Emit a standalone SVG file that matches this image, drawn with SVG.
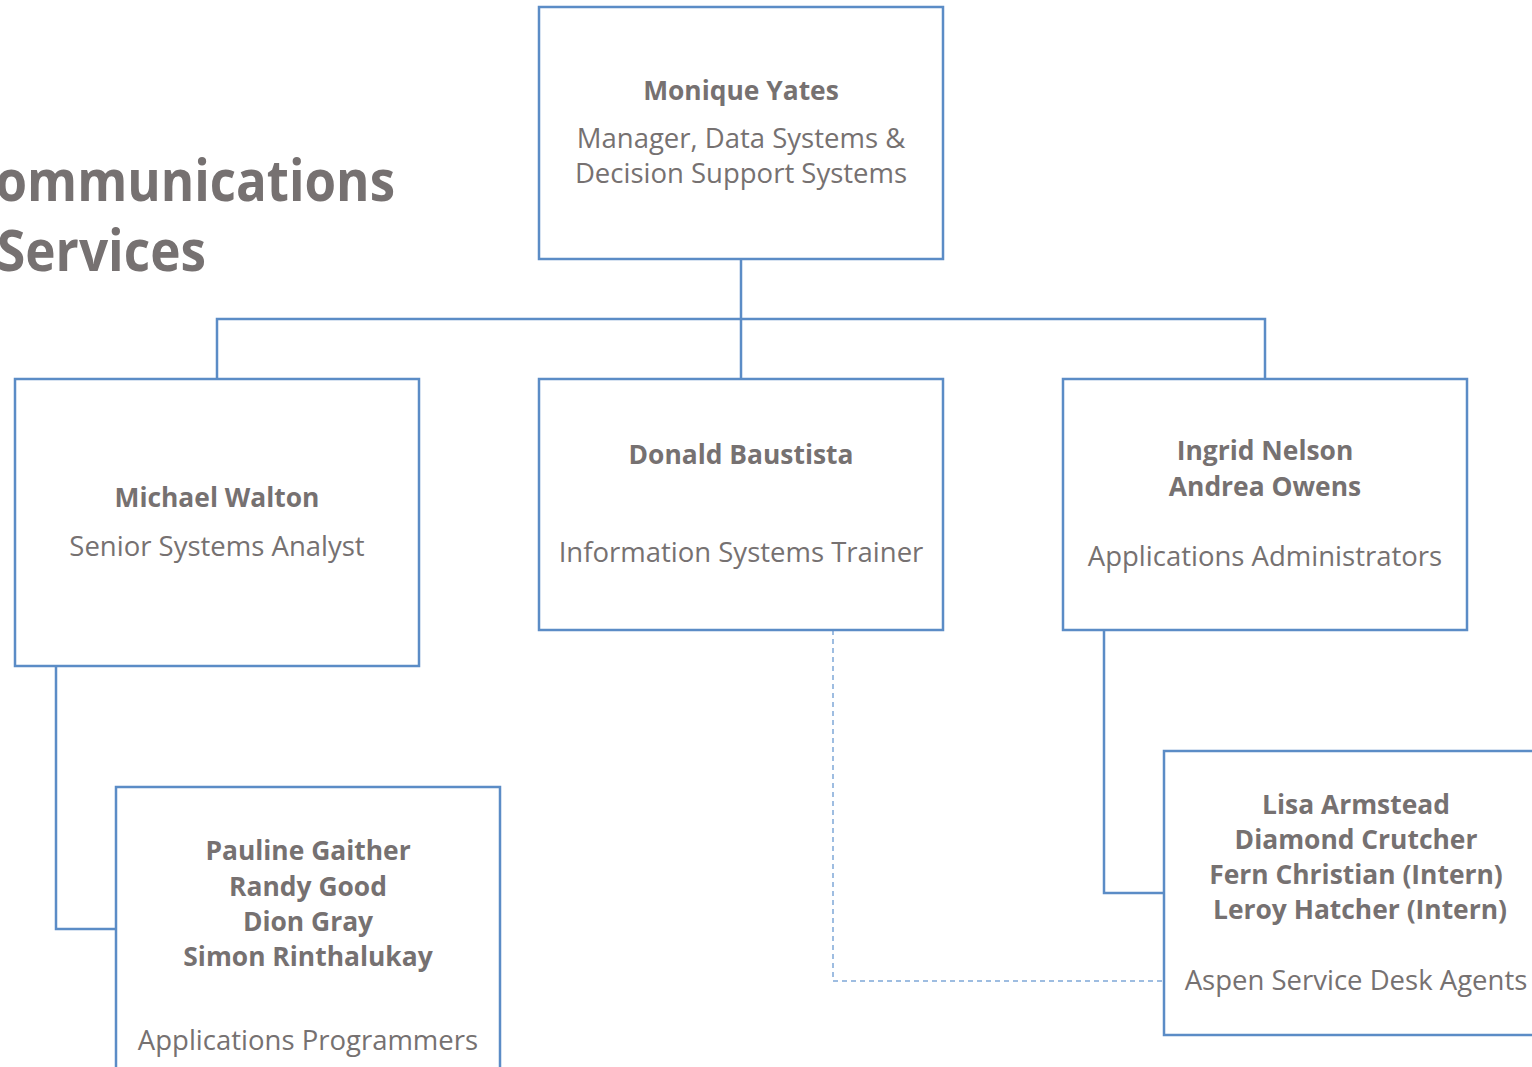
<svg xmlns="http://www.w3.org/2000/svg" width="1532" height="1067" viewBox="0 0 1532 1067">
<style>
.box{fill:#fff;stroke:#5b8cc6;stroke-width:2.5}
.ln{fill:none;stroke:#5b8cc6;stroke-width:2.5}
.dash{fill:none;stroke:#7fa8d8;stroke-width:1.5;stroke-dasharray:5 4}
text{font-family:"Open Sans","Noto Sans","Liberation Sans",sans-serif;fill:#767171;text-anchor:middle}
.b{font-weight:bold;font-size:26.4px}
.r{font-size:27.5px}
.title{font-weight:bold;font-size:58px;text-anchor:start}
</style>
<rect width="1532" height="1067" fill="#fff"/>
<g id="title">
<text class="title" x="-37" y="201" textLength="432" lengthAdjust="spacingAndGlyphs">Communications</text>
<text class="title" x="-3" y="271" textLength="209" lengthAdjust="spacingAndGlyphs">Services</text>
</g>
<g id="connectors">
<path class="ln" d="M741 259V319M217 379V319H1265V379M741 319V379"/>
<path class="ln" d="M56 666V929H116"/>
<path class="ln" d="M1104 630V893H1164"/>
<path class="dash" d="M833 630V981H1164"/>
</g>
<g id="n-monique">
<rect class="box" x="539" y="7" width="404" height="252"/>
<text class="b" x="741" y="100">Monique Yates</text>
<text class="r" x="741" y="148">Manager, Data Systems &amp;</text>
<text class="r" x="741" y="183">Decision Support Systems</text>
</g>
<g id="n-michael">
<rect class="box" x="15" y="379" width="404" height="287"/>
<text class="b" x="217" y="507">Michael Walton</text>
<text class="r" x="217" y="556">Senior Systems Analyst</text>
</g>
<g id="n-donald">
<rect class="box" x="539" y="379" width="404" height="251"/>
<text class="b" x="741" y="464">Donald Baustista</text>
<text class="r" x="741" y="562">Information Systems Trainer</text>
</g>
<g id="n-ingrid">
<rect class="box" x="1063" y="379" width="404" height="251"/>
<text class="b" x="1265" y="460">Ingrid Nelson</text>
<text class="b" x="1265" y="496">Andrea Owens</text>
<text class="r" x="1265" y="566">Applications Administrators</text>
</g>
<g id="n-pauline">
<rect class="box" x="116" y="787" width="384" height="300"/>
<text class="b" x="308" y="860">Pauline Gaither</text>
<text class="b" x="308" y="896">Randy Good</text>
<text class="b" x="308" y="931">Dion Gray</text>
<text class="b" x="308" y="966">Simon Rinthalukay</text>
<text class="r" x="308" y="1050">Applications Programmers</text>
</g>
<g id="n-lisa">
<rect class="box" x="1164" y="751" width="400" height="284"/>
<text class="b" x="1356" y="814">Lisa Armstead</text>
<text class="b" x="1356" y="849">Diamond Crutcher</text>
<text class="b" x="1356" y="884">Fern Christian (Intern)</text>
<text class="b" x="1360" y="919">Leroy Hatcher (Intern)</text>
<text class="r" x="1356" y="990">Aspen Service Desk Agents</text>
</g>
</svg>
